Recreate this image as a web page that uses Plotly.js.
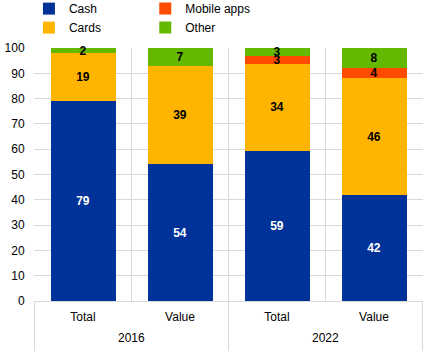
<!DOCTYPE html>
<html><head><meta charset="utf-8">
<script src="https://cdn.plot.ly/plotly-3.0.1.min.js"></script>
<style>body{margin:0;padding:0;background:#fff}#chart{width:435px;height:351px}</style>
</head><body><div id="chart"></div>
<script>
const years = ["2016", "2016", "2022", "2022"];
const measures = ["Total", "Value", "Total", "Value"];
const cash = [79, 54, 59.4, 42];
const cards = [19, 39, 34.4, 46];
const mobileApps = [0, 0, 3.1, 4];
const other = [2, 7, 3.1, 8];
const yTicks = [0, 10, 20, 30, 40, 50, 60, 70, 80, 90, 100];

const xKeys = years.map((y, i) => y + " " + measures[i]);
function lbl(arr){ return arr.map(v => v > 0 ? String(Math.round(v)) : ""); }
function mk(name, vals, color, textColor, legend){
  return {
    type: "bar", name: name, x: xKeys, y: vals,
    marker: {color: color, line: {width: 0}},
    text: lbl(vals), textposition: "inside", insidetextanchor: "middle",
    constraintext: "none", textangle: 0, cliponaxis: false,
    textfont: {family: "Arial, Liberation Sans, sans-serif", size: 12, color: textColor, weight: "bold"},
    hoverinfo: "none", legend: legend
  };
}
const data = [
  mk("Cash", cash, "#003299", "#ffffff", "legend"),
  mk("Cards", cards, "#ffb400", "#000000", "legend"),
  mk("Mobile apps", mobileApps, "#ff4b00", "#000000", "legend2"),
  mk("Other", other, "#65b800", "#000000", "legend2")
];

// year groups: label centres and group boundaries from the category arrays
const groups = [];
years.forEach((y, i) => {
  const g = groups.find(o => o.year === y);
  if (g) g.last = i; else groups.push({year: y, first: i, last: i});
});
const annotations = groups.map(g => ({
  x: (g.first + g.last) / 2, xref: "x", y: -0.146, yref: "paper",
  text: g.year, showarrow: false, xanchor: "center", yanchor: "middle",
  font: {family: "Arial, Liberation Sans, sans-serif", size: 12, color: "#000"}
}));
const bounds = [groups[0].first - 0.5].concat(groups.map(g => g.last + 0.5));
const shapes = bounds.map(b => ({
  type: "line", xref: "x", yref: "paper", x0: b, x1: b, y0: 0, y1: -0.2,
  line: {color: "#d9d9d9", width: 1}
}));

const legendBase = {
  orientation: "v", xref: "paper", yref: "paper", yanchor: "top",
  traceorder: "normal",
  font: {family: "Arial, Liberation Sans, sans-serif", size: 12, color: "#000"},
  bgcolor: "rgba(0,0,0,0)", itemclick: false, tracegroupgap: 0
};
const layout = {
  width: 435, height: 351,
  margin: {l: 34, r: 12, t: 48, b: 50, autoexpand: false},
  paper_bgcolor: "#fff", plot_bgcolor: "#fff",
  barmode: "stack", bargap: 0.33,
  showlegend: true,
  legend: Object.assign({}, legendBase, {x: -0.013, y: 1.213}),
  legend2: Object.assign({}, legendBase, {x: 0.286, y: 1.213}),
  font: {family: "Arial, Liberation Sans, sans-serif", size: 12, color: "#000"},
  annotations: annotations,
  shapes: shapes,
  xaxis: {
    type: "category", tickson: "boundaries", showgrid: true,
    tickvals: xKeys, ticktext: measures,
    gridcolor: "#d9d9d9", gridwidth: 1, ticks: "",
    showline: true, linecolor: "#d9d9d9",
    ticklabelstandoff: 5,
    tickfont: {size: 12, color: "#000"}
  },
  yaxis: {
    range: [0, 100], tickvals: yTicks, ticktext: yTicks.map(String),
    showgrid: true, gridcolor: "#d9d9d9", gridwidth: 1, zeroline: false,
    showline: false, ticks: "outside", ticklen: 6, tickcolor: "rgba(0,0,0,0)",
    tickfont: {size: 12, color: "#000"}
  }
};
Plotly.newPlot("chart", data, layout, {displayModeBar: false, staticPlot: true});
</script></body></html>
